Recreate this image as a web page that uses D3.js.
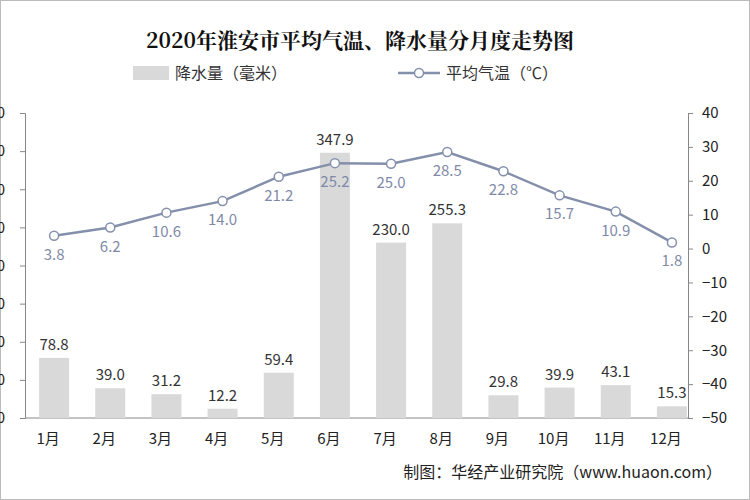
<!DOCTYPE html>
<html><head><meta charset="utf-8">
<script src="https://cdn.jsdelivr.net/npm/d3@7"></script>
<style>body{margin:0;background:#fff}text{font-family:"Noto Sans CJK SC",sans-serif}</style>
</head><body><div id="chart"></div>
<script>
var months = ['1月','2月','3月','4月','5月','6月','7月','8月','9月','10月','11月','12月']
var rain = [78.8,39.0,31.2,12.2,59.4,347.9,230.0,255.3,29.8,39.9,43.1,15.3]
var temp = [3.8,6.2,10.6,14.0,21.2,25.2,25.0,28.5,22.8,15.7,10.9,1.8]
var leftTicks = [0,50,100,150,200,250,300,350,400]
var rightTicks = [-50,-40,-30,-20,-10,0,10,20,30,40]

var width = 750, height = 500
var svg = d3.select('#chart').append('svg').attr('width', width).attr('height', height)
svg.append('rect').attr('x',0.5).attr('y',0.5).attr('width',749).attr('height',499)
  .style('fill','#fff').style('stroke','#bbb')

var x = d3.scaleBand().domain(months).range([26, 700])
var yL = d3.scaleLinear().domain([0,400]).range([418,113])
var yR = d3.scaleLinear().domain([-50,40]).range([418,113])

// axes
var gl = svg.append('g').attr('transform','translate(25,0)')
  .call(d3.axisLeft(yL).tickValues(leftTicks).tickSize(5).tickFormat(d3.format('d')))
var gr = svg.append('g').attr('transform','translate(688,0)')
  .call(d3.axisRight(yR).tickValues(rightTicks).tickSize(5))
;[gl,gr].forEach(function(g){
  g.select('.domain').style('stroke','#888')
  g.selectAll('line').style('stroke','#888')
  g.selectAll('text').style('font-size','15px').style('fill','#222')
})
gl.selectAll('text').attr('x',-20)
gr.selectAll('text').attr('x',14)
svg.append('line').attr('x1',25).attr('x2',688).attr('y1',418).attr('y2',418).style('stroke','#888')

// bars
svg.selectAll('.bar').data(rain).enter().append('rect')
  .attr('x',(d,i)=>x(months[i])+x.bandwidth()/2-15)
  .attr('width',30)
  .attr('y',d=>yL(d)).attr('height',d=>418-yL(d))
  .style('fill','#d9d9d9')
svg.selectAll('.blab').data(rain).enter().append('text')
  .attr('x',(d,i)=>x(months[i])+x.bandwidth()/2)
  .attr('y',d=>yL(d)-8).attr('text-anchor','middle')
  .style('font-size','15px').style('fill','#333')
  .text(d=>d.toFixed(1))

// line
var line = d3.line().x((d,i)=>x(months[i])+x.bandwidth()/2).y(d=>yR(d))
svg.append('path').datum(temp).attr('d',line)
  .style('fill','none').style('stroke','#8490ab').style('stroke-width',2.5)
svg.selectAll('.dot').data(temp).enter().append('circle')
  .attr('cx',(d,i)=>x(months[i])+x.bandwidth()/2).attr('cy',d=>yR(d)).attr('r',4.5)
  .style('fill','#fff').style('stroke','#8490ab').style('stroke-width',1.5)
svg.selectAll('.tlab').data(temp).enter().append('text')
  .attr('x',(d,i)=>x(months[i])+x.bandwidth()/2)
  .attr('y',d=>yR(d)+24).attr('text-anchor','middle')
  .style('font-size','15px').style('fill','#7f8aa8')
  .text(d=>d.toFixed(1))

// x labels
svg.selectAll('.xl').data(months).enter().append('text')
  .attr('x',d=>x(d)+x.bandwidth()/2-6).attr('y',444).attr('text-anchor','middle')
  .style('font-size','15px').style('fill','#222').text(d=>d)

// title & legend
svg.append('text').attr('x',360).attr('y',48).attr('text-anchor','middle')
  .style('font-family','"Noto Serif CJK SC","Noto Sans CJK SC",serif').style('font-weight','bold')
  .style('font-size','21px').style('fill','#111').text('2020年淮安市平均气温、降水量分月度走势图')
svg.append('rect').attr('x',133).attr('y',66).attr('width',36).attr('height',14).style('fill','#d9d9d9')
svg.append('text').attr('x',175).attr('y',79).style('font-size','16px').style('fill','#333').text('降水量（毫米）')
svg.append('line').attr('x1',398).attr('x2',440).attr('y1',73).attr('y2',73).style('stroke','#8490ab').style('stroke-width',2.5)
svg.append('circle').attr('cx',419).attr('cy',73).attr('r',4.5).style('fill','#fff').style('stroke','#8490ab').style('stroke-width',1.5)
svg.append('text').attr('x',446).attr('y',79).style('font-size','16px').style('fill','#333').text('平均气温（℃）')

svg.append('text').attr('x',722).attr('y',478).attr('text-anchor','end')
  .style('font-size','16px').style('fill','#222').text('制图：华经产业研究院（www.huaon.com）')
</script></body></html>
